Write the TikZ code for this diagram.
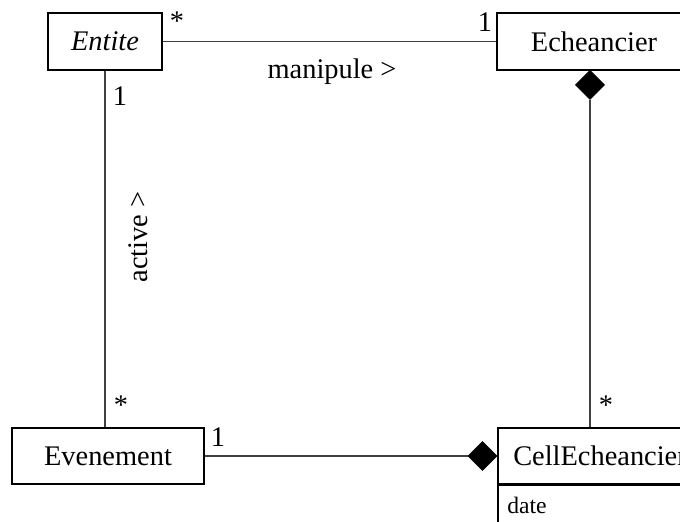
\documentclass[tikz,border=0pt]{standalone}
\usepackage{fontspec}
\setmainfont{Liberation Serif}
\usetikzlibrary{shapes.geometric}
\begin{document}
\begin{tikzpicture}[x=0.5pt,y=-0.5pt,
  every node/.style={font=\fontsize{14.2}{16}\selectfont},
  classbox/.style={draw,line width=0.6pt,inner sep=0pt,minimum height=28.5pt},
  compo/.style={diamond,fill=black,draw=black,inner sep=0pt,minimum width=14.5pt,minimum height=14.5pt},
  assoc/.style={line width=0.6pt,draw=black!75},
  lbl/.style={inner sep=0pt}]
\useasboundingbox (0,0) rectangle (680,522);
\clip (0,0) rectangle (680,522);

% classes
\node[classbox,minimum width=57pt] (entite) at (105,41.5) {\itshape Entite};
\node[classbox,minimum width=97pt] (echeancier) at (594,41.5) {Echeancier};
\node[classbox,minimum width=96pt,minimum height=28pt] (evenement) at (108,456) {Evenement};
\node[classbox,minimum width=102pt,minimum height=28pt] (cell) at (600,456) {CellEcheancier};
\node[draw,line width=0.6pt,anchor=north west,minimum width=102pt,minimum height=30pt,inner sep=0pt] (cellattr) at (cell.south west) {};
\node[lbl,anchor=base west,font=\fontsize{11.8}{14}\selectfont] (date) at (507,514) {date};

% composition diamonds
\node[compo,anchor=north] (dtop) at (590,70) {};
\node[compo,anchor=east] (dbot) at (cell.west) {};

% associations
\draw[assoc] (entite) -- (echeancier);
\draw[assoc] (entite.south) -- (entite.south |- evenement.north);
\draw[assoc] (dtop.south) -- (dtop.south |- cell.north);
\draw[assoc] (evenement) -- (dbot);

% multiplicities and role names
\node[lbl] (m1) at (177,21) {*};
\node[lbl] (m2) at (485,22) {1};
\node[lbl] (manip) at (332,72) {manipule >};
\node[lbl] (m3) at (120,96) {1};
\node[lbl,rotate=90] (act) at (138,237) {active >};
\node[lbl] (m4) at (121,405) {*};
\node[lbl] (m5) at (218,437) {1};
\node[lbl] (m6) at (606,405) {*};
\end{tikzpicture}
\end{document}
